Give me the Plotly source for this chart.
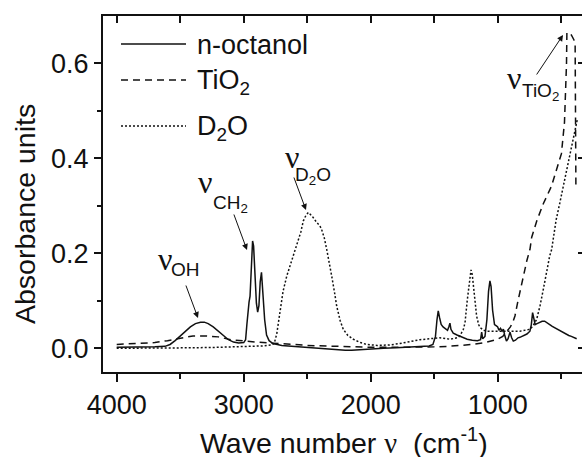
import plotly.graph_objects as go

# ---------------- data ----------------
oct_wn = [4000, 3900, 3800, 3700, 3620, 3580, 3540, 3500, 3460, 3420, 3380, 3340, 3310, 3280, 3240,
          3200, 3160, 3120, 3080, 3040, 3000, 2985, 2975, 2965, 2958, 2950, 2940, 2930, 2922, 2910,
          2900, 2890, 2880, 2870, 2860, 2850, 2835, 2820, 2800, 2770, 2740, 2700, 2650, 2600, 2550,
          2500, 2450, 2400, 2300, 2200, 2150, 2100, 2000, 1900, 1800, 1700, 1600, 1540, 1510, 1490,
          1478, 1468, 1458, 1445, 1430, 1410, 1395, 1385, 1376, 1368, 1350, 1320, 1290, 1260, 1240,
          1200, 1160, 1135, 1126, 1118, 1100, 1085, 1072, 1061, 1052, 1040, 1025, 1010, 1000, 990,
          978, 965, 955, 945, 931, 918, 903, 890, 877, 860, 840, 825, 800, 770, 746, 735, 725, 715,
          705, 690, 670, 650, 630, 610, 590, 570, 550, 535, 515, 495, 475, 457, 440, 420, 400, 378]
oct_abs = [0.002, 0.002, 0.003, 0.003, 0.004, 0.008, 0.016, 0.026, 0.036, 0.045, 0.052, 0.055, 0.055,
           0.052, 0.045, 0.036, 0.026, 0.018, 0.013, 0.011, 0.012, 0.018, 0.050, 0.090, 0.097, 0.110,
           0.170, 0.226, 0.215, 0.140, 0.095, 0.076, 0.090, 0.140, 0.160, 0.120, 0.060, 0.028, 0.016,
           0.010, 0.008, 0.006, 0.005, 0.004, 0.002, 0.002, 0.001, 0.000, -0.002, -0.004, -0.004,
           -0.003, -0.002, 0.000, 0.001, 0.002, 0.004, 0.005, 0.008, 0.025, 0.060, 0.079, 0.065, 0.050,
           0.045, 0.040, 0.038, 0.045, 0.053, 0.040, 0.032, 0.028, 0.024, 0.021, 0.019, 0.017, 0.016,
           0.018, 0.034, 0.020, 0.025, 0.060, 0.120, 0.142, 0.130, 0.080, 0.050, 0.047, 0.045, 0.038,
           0.042, 0.036, 0.040, 0.028, 0.015, 0.020, 0.034, 0.022, 0.015, 0.017, 0.022, 0.023, 0.026,
           0.030, 0.036, 0.050, 0.075, 0.060, 0.050, 0.052, 0.055, 0.057, 0.057, 0.054, 0.050, 0.046,
           0.043, 0.040, 0.037, 0.035, 0.032, 0.030, 0.027, 0.025, 0.022, 0.020]

tio2_wn = [4000, 3900, 3800, 3700, 3600, 3500, 3440, 3400, 3300, 3200, 3100, 3000, 2900, 2800, 2700,
           2600, 2500, 2400, 2300, 2200, 2100, 2000, 1800, 1600, 1500, 1400, 1300, 1200, 1100, 1050,
           1000, 960, 930, 900, 880, 864, 840, 800, 770, 746, 732, 690, 640, 577, 540, 498, 474, 462,
           458, 455, 440, 420, 400, 390, 388, 386, 384]
tio2_abs = [0.008, 0.009, 0.010, 0.012, 0.016, 0.021, 0.025, 0.026, 0.026, 0.024, 0.018, 0.015, 0.013,
            0.011, 0.010, 0.008, 0.006, 0.005, 0.004, 0.003, 0.002, 0.002, 0.002, 0.002, 0.003, 0.004,
            0.006, 0.008, 0.012, 0.015, 0.019, 0.025, 0.034, 0.045, 0.056, 0.068, 0.100, 0.150, 0.185,
            0.208, 0.234, 0.270, 0.305, 0.341, 0.372, 0.410, 0.476, 0.545, 0.600, 0.665, 0.665, 0.660,
            0.650, 0.640, 0.550, 0.450, 0.340]

d2o_wn = [4000, 3800, 3600, 3400, 3200, 3000, 2850, 2780, 2760, 2740, 2714, 2690, 2661, 2620, 2583,
          2550, 2531, 2510, 2491, 2460, 2425, 2400, 2386, 2365, 2346, 2325, 2307, 2285, 2268, 2240,
          2216, 2180, 2137, 2080, 2031, 1950, 1850, 1770, 1700, 1612, 1500, 1455, 1400, 1376, 1320,
          1297, 1270, 1257, 1240, 1231, 1220, 1210, 1200, 1187, 1175, 1166, 1150, 1140, 1110, 1087,
          1000, 903, 825, 746, 720, 693, 667, 640, 614, 590, 575, 563, 540, 510, 480, 457, 417, 391,
          373]
d2o_abs = [0.000, 0.000, 0.000, 0.001, 0.002, 0.003, 0.005, 0.007, 0.010, 0.030, 0.082, 0.120, 0.152,
           0.185, 0.215, 0.245, 0.268, 0.280, 0.286, 0.278, 0.265, 0.258, 0.250, 0.232, 0.208, 0.180,
           0.152, 0.118, 0.089, 0.058, 0.040, 0.027, 0.019, 0.012, 0.008, 0.006, 0.007, 0.010, 0.014,
           0.018, 0.021, 0.022, 0.020, 0.019, 0.022, 0.026, 0.040, 0.054, 0.100, 0.124, 0.150, 0.165,
           0.155, 0.124, 0.090, 0.068, 0.050, 0.044, 0.038, 0.036, 0.036, 0.036, 0.036, 0.040, 0.048,
           0.061, 0.089, 0.125, 0.166, 0.195, 0.208, 0.233, 0.270, 0.307, 0.345, 0.377, 0.426, 0.461,
           0.482]

series_names = ["n-octanol", "TiO<sub>2</sub>", "D<sub>2</sub>O"]
x_tick_vals = [4000, 3000, 2000, 1000]
x_tick_text = ["4000", "3000", "2000", "1000"]
y_tick_vals = [0.0, 0.2, 0.4, 0.6]
y_tick_text = ["0.0", "0.2", "0.4", "0.6"]

# ---------------- layout geometry (pixels) ----------------
W, H = 582, 457
L, R, T, B = 103, 582, 16, 372
XR = [4108, 336]
YR = [-0.05, 0.70]
SANS = "Liberation Sans, Arial, sans-serif"
SERIF = "Liberation Serif, Times New Roman, serif"
INK = "#111111"


def pp(xp, yp):
    return (xp - L) / (R - L), (B - yp) / (B - T)


fig = go.Figure()
line_styles = [dict(color=INK, width=1.5),
               dict(color=INK, width=1.5, dash="7px,5px"),
               dict(color=INK, width=1.5, dash="2px,2px")]
for name, xs, ys, ls in zip(series_names, [oct_wn, tio2_wn, d2o_wn],
                            [oct_abs, tio2_abs, d2o_abs], line_styles):
    fig.add_trace(go.Scatter(x=xs, y=ys, mode="lines", name=name, line=ls,
                             showlegend=False, hoverinfo="skip"))

# helper trace so that the mirrored top/right axes get drawn
fig.add_trace(go.Scatter(x=[None], y=[None], xaxis="x2", yaxis="y2", showlegend=False,
                         hoverinfo="skip"))

axis_common = dict(showgrid=False, zeroline=False, linecolor=INK, linewidth=2,
                   tickcolor=INK, tickwidth=1.5, automargin=False)
fig.update_layout(
    width=W, height=H,
    margin=dict(l=L, r=W - R, t=T, b=H - B, pad=0),
    paper_bgcolor="white", plot_bgcolor="white",
    font=dict(family=SANS, size=26, color=INK),
    xaxis=dict(range=XR, autorange=False, tickmode="array", tickvals=x_tick_vals,
               ticktext=x_tick_text, ticks="outside", ticklen=8, showline=True,
               minor=dict(tickmode="array", tickvals=[3500, 2500, 1500, 500], ticks="outside",
                          ticklen=5, tickcolor=INK, tickwidth=1.5),
               tickfont=dict(size=27), **axis_common),
    yaxis=dict(range=YR, autorange=False, tickmode="array", tickvals=y_tick_vals,
               ticktext=y_tick_text, ticks="outside", ticklen=7, showline=True,
               minor=dict(tickmode="array", tickvals=[0.1, 0.3, 0.5], ticks="outside",
                          ticklen=4, tickcolor=INK, tickwidth=1.5),
               tickfont=dict(size=27), **axis_common),
    xaxis2=dict(range=XR, autorange=False, overlaying="x", side="top", anchor="y2",
                tickmode="array", tickvals=[4000, 3500, 3000, 2500, 2000, 1500, 1000, 500],
                ticks="inside", ticklen=7, showticklabels=False, showline=True, **axis_common),
    yaxis2=dict(range=YR, autorange=False, overlaying="y", side="right", anchor="x2",
                tickmode="array", tickvals=y_tick_vals, ticks="inside", ticklen=4,
                showticklabels=False, showline=False, **axis_common),
)

ann = []
# axis titles
x0, y0 = pp(344, 441)
ann.append(dict(text="Wave number <span style='font-family:%s'>ν</span>  (cm<sup>-1</sup>)" % SERIF,
                x=x0, y=y0, xref="paper", yref="paper", showarrow=False,
                xanchor="center", yanchor="middle", font=dict(size=28.5, family=SANS, color=INK)))
x0, y0 = pp(25, 214)
ann.append(dict(text="Absorbance units", x=x0, y=y0, xref="paper", yref="paper", showarrow=False,
                textangle=-90, xanchor="center", yanchor="middle",
                font=dict(size=28.5, family=SANS, color=INK)))

# legend (drawn manually to match the long line samples)
legend_rows = [(44, 45), (80, 82), (126, 128)]
shapes = []
for (ly, ty), name, ls in zip(legend_rows, series_names, line_styles):
    xa, ya = pp(121, ly)
    xb, _ = pp(186, ly)
    shapes.append(dict(type="line", xref="paper", yref="paper", x0=xa, x1=xb, y0=ya, y1=ya,
                       line=ls))
    xt, yt = pp(195, ty)
    ann.append(dict(text=name, x=xt, y=yt, xref="paper", yref="paper", showarrow=False,
                    xanchor="left", yanchor="middle", font=dict(size=27, family=SANS, color=INK)))

# band labels: (nu centre px, subscript text, subscript centre px, arrow tail px, arrow head px)
labels = [
    ((165, 259), "OH", (185, 269), (185, 283), (198, 318)),
    ((205, 182), "CH<sub>2</sub>", (230, 204), (233, 212), (247, 250)),
    ((292, 157), "D<sub>2</sub>O", (313, 176), (293, 175), (306, 210)),
    ((514, 78), "TiO<sub>2</sub>", (540, 92), (535, 77), (563, 35)),
]
for nu, sub, subc, tail, head in labels:
    xn, yn = pp(*nu)
    ann.append(dict(text="ν", x=xn, y=yn, xref="paper", yref="paper", showarrow=False,
                    xanchor="center", yanchor="middle", font=dict(size=32, family=SERIF, color=INK)))
    xs_, ys_ = pp(*subc)
    ann.append(dict(text=sub, x=xs_, y=ys_, xref="paper", yref="paper", showarrow=False,
                    xanchor="center", yanchor="middle", font=dict(size=19, family=SANS, color=INK)))
    xh, yh = pp(*head)
    ann.append(dict(text=" ", x=xh, y=yh, xref="paper", yref="paper", showarrow=True,
                    ax=tail[0] - head[0], ay=tail[1] - head[1], arrowhead=2, arrowsize=1.2,
                    arrowwidth=1, arrowcolor=INK, standoff=0, startstandoff=0,
                    font=dict(size=2)))

fig.update_layout(annotations=ann, shapes=shapes)
fig.write_html("out.html", config={"displayModeBar": False},
               post_script="document.body.style.margin='0px';"
                           "document.body.style.padding='0px';"
                           "document.documentElement.style.overflow='hidden';")
